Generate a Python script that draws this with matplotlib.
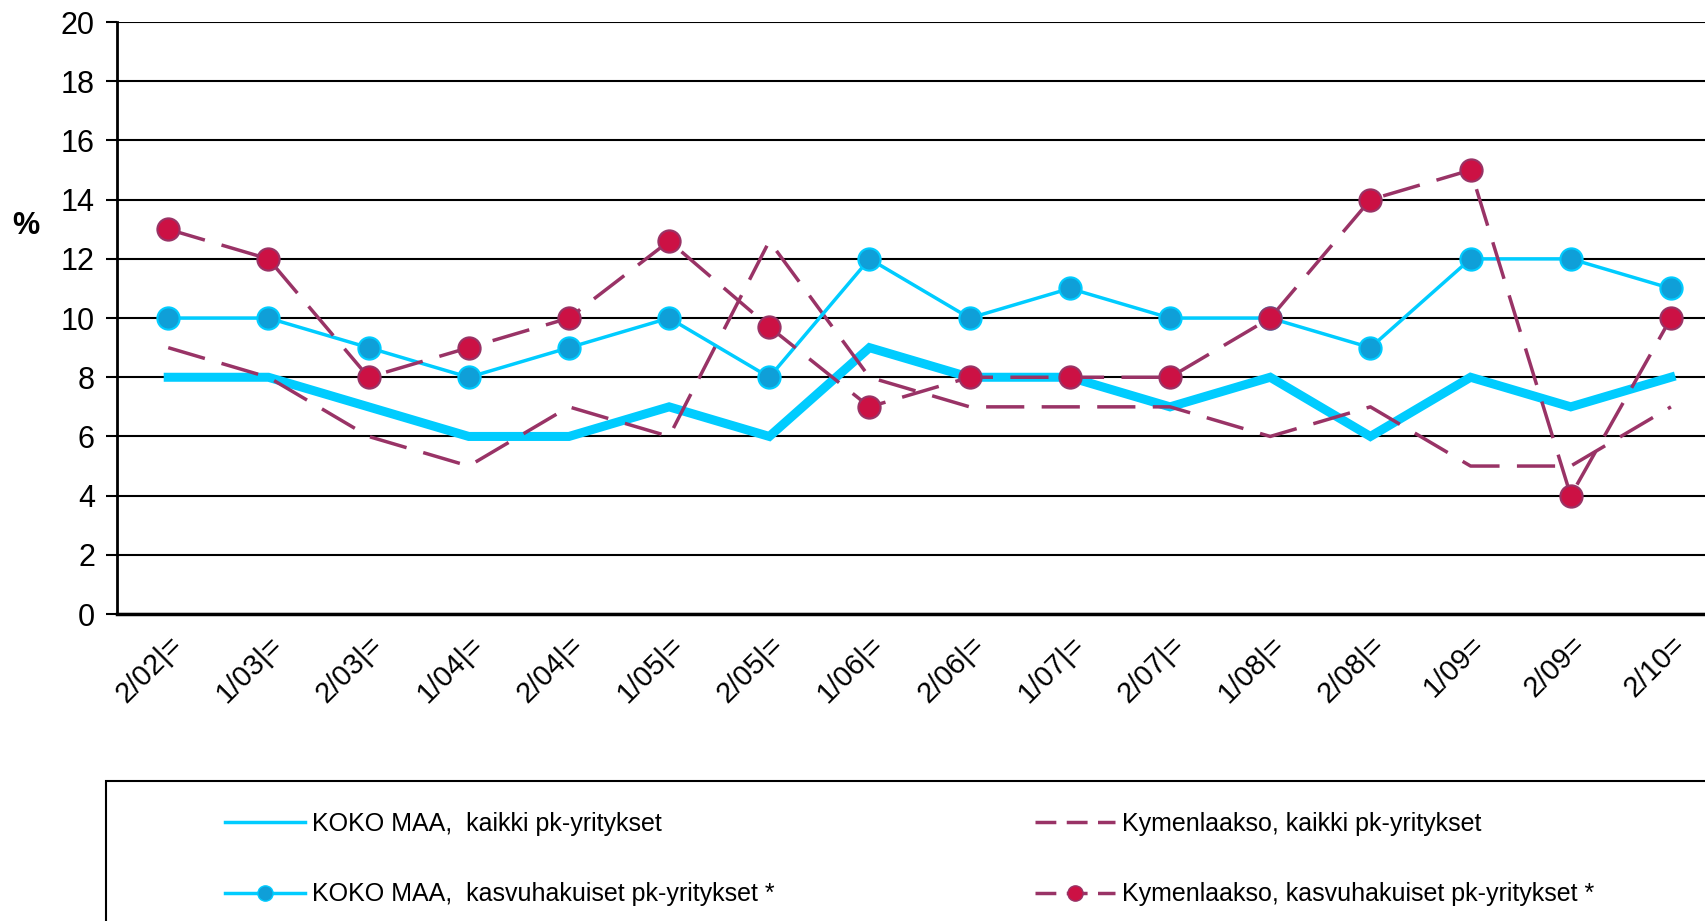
import matplotlib
matplotlib.use('Agg')
import matplotlib.pyplot as plt
from matplotlib.lines import Line2D
from matplotlib.patches import Rectangle

plt.rcParams['font.family'] = ['Liberation Sans', 'DejaVu Sans']

periods = ['2/02|=', '1/03|=', '2/03|=', '1/04|=', '2/04|=', '1/05|=', '2/05|=', '1/06|=',
           '2/06|=', '1/07|=', '2/07|=', '1/08|=', '2/08|=', '1/09=', '2/09=', '2/10=']
koko_kaikki = [8, 8, 7, 6, 6, 7, 6, 9, 8, 8, 7, 8, 6, 8, 7, 8]
koko_kasvu = [10, 10, 9, 8, 9, 10, 8, 12, 10, 11, 10, 10, 9, 12, 12, 11]
kymen_kaikki = [9, 8, 6, 5, 7, 6, 12.6, 8, 7, 7, 7, 6, 7, 5, 5, 7]
kymen_kasvu = [13, 12, 8, 9, 10, 12.6, 9.7, 7, 8, 8, 8, 10, 14, 15, 4, 10]

cyan = '#00CCFF'
blue = '#0F9FD8'
purple = '#993366'
red = '#CC1144'

fig = plt.figure(figsize=(17.05, 9.21), dpi=100)
ax = fig.add_axes([0.0687, 0.3333, 0.9313, 0.6427])

x = range(len(periods))
ax.plot(x, koko_kaikki, color=cyan, lw=6.5, solid_joinstyle='miter', zorder=3)
ax.plot(x, kymen_kaikki, color=purple, lw=2.5, dashes=(11, 5), zorder=4)
ax.plot(x, koko_kasvu, color=cyan, lw=2.5, marker='o', ms=16,
        mfc=blue, mec=cyan, mew=1.5, zorder=5)
ax.plot(x, kymen_kasvu, color=purple, lw=2.5, dashes=(11, 5), marker='o', ms=16,
        mfc=red, mec=purple, mew=1.5, zorder=6)

ax.set_ylim(0, 20)
ax.set_xlim(-0.51, 15.34)
ax.set_yticks(range(0, 21, 2))
ax.yaxis.grid(True, color='black', lw=1.5)
ax.set_axisbelow(True)
for s in ['top', 'right']:
    ax.spines[s].set_visible(False)
ax.spines['left'].set_linewidth(2)
ax.spines['bottom'].set_linewidth(2.5)
ax.tick_params(axis='y', labelsize=22, length=8, width=1.5, pad=8)
ax.tick_params(axis='x', length=0, pad=12)
ax.set_xticks(list(x))
ax.set_xticklabels(periods, rotation=45, ha='right', va='top',
                   rotation_mode='anchor', fontsize=21)

fig.text(0.007, 0.755, '%', fontsize=22, fontweight='bold', ha='left', va='center')

# legend frame, cut off by the figure edge like in the source
fig.patches.append(Rectangle((0.0619, -0.05), 1.0, 0.202, transform=fig.transFigure,
                             fill=False, ec='black', lw=1.5))

handles = [
    Line2D([], [], color=cyan, lw=2.5),
    Line2D([], [], color=cyan, lw=2.5, marker='o', ms=11, mfc=blue, mec=cyan),
    Line2D([], [], color=purple, lw=2.5, dashes=(6, 3)),
    Line2D([], [], color=purple, lw=2.5, dashes=(6, 3), marker='o', ms=11, mfc=red, mec=purple),
]
labels = ['KOKO MAA,  kaikki pk-yritykset',
          'KOKO MAA,  kasvuhakuiset pk-yritykset *',
          'Kymenlaakso, kaikki pk-yritykset',
          'Kymenlaakso, kasvuhakuiset pk-yritykset *']
fig.legend(handles, labels, loc='upper left', bbox_to_anchor=(0.126, 0.129), ncol=2,
           frameon=False, fontsize=18, handlelength=3.2, handletextpad=0.3,
           labelspacing=1.85, columnspacing=10.4, borderaxespad=0)

plt.savefig('out.png', dpi=100)
